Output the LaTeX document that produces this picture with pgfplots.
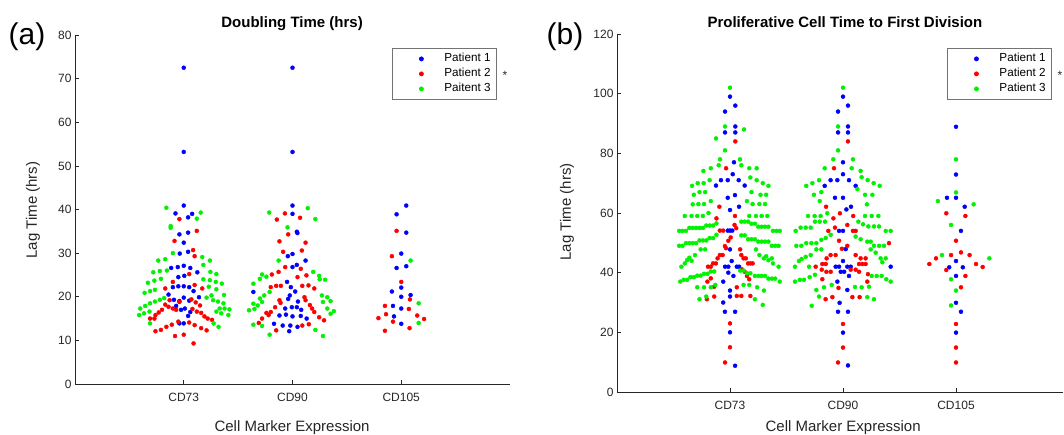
\documentclass[border=0pt]{standalone}
\usepackage{fontspec}
\setmainfont{Liberation Sans}
\usepackage{pgfplots}
\pgfplotsset{compat=1.18}
\definecolor{mblue}{rgb}{0,0,1}
\definecolor{mred}{rgb}{1,0,0}
\definecolor{mgreen}{rgb}{0,0.95,0}
\definecolor{axgray}{gray}{0.15}
\pgfplotsset{
  scale only axis, 
  axis x line*=bottom, axis y line*=left,
  axis line style={axgray, line width=0.6pt},
  every tick/.style={axgray, line width=0.6pt},
  tick align=inside, major tick length=4pt,
  xtick={1,2,3}, xticklabels={CD73,CD90,CD105},
  ticklabel style={font=\fontsize{12}{14}\selectfont, text=axgray},
  xticklabel style={yshift=-6pt},
  /pgf/number format/assume math mode=true,
  label style={font=\fontsize{15}{17}\selectfont, text=axgray},
  title style={font=\bfseries\fontsize{15}{17}\selectfont, anchor=center, yshift=-8pt},
  clip=false,
  legend style={draw=black!55, line width=0.8pt, fill=white, anchor=north west,
    font=\fontsize{11.7}{13}\selectfont, inner xsep=2pt, inner ysep=3pt,
    nodes={inner xsep=4pt, inner ysep=2pt, text height=8.5pt, text depth=2.5pt}},
  legend cell align=left,
  legend image code/.code={\path[draw=none] (0pt,0pt) -- (46pt,0pt); \draw[#1, only marks, draw opacity=1] plot coordinates {(27pt,0pt)};},
  dots/.style={only marks, mark=*, mark size=2.0pt},
}
\begin{document}
\begin{tikzpicture}
\useasboundingbox (0pt,0pt) rectangle (1064pt,434pt);
% ---------------- panel (a)
\begin{axis}[at={(75pt,50pt)}, anchor=south west, width=435pt, height=349pt,
  xmin=0, xmax=4, ymin=0, ymax=80, ytick={0,10,...,80},
  title={Doubling Time (hrs)}, title style={at={(axis description cs:0.499,1.037)}},
  xlabel={Cell Marker Expression}, xlabel style={at={(axis description cs:0.499,-0.126)}, anchor=center},
  ylabel={Lag Time (hrs)}, ylabel style={at={(axis description cs:-0.0966,0.4986)}, anchor=center},
  legend style={at={(axis description cs:0.7287,0.9628)}}]
\addplot[dots, mblue, mark options={fill=mblue}] table[row sep=\\] {
x y \\
1.000 72.5 \\ 1.000 53.2 \\ 1.000 40.9 \\ 0.924 39.1 \\ 1.077 39.0 \\ 1.040 38.2 \\
0.960 34.3 \\ 1.040 34.7 \\ 1.000 32.4 \\ 0.963 29.9 \\ 1.040 30.3 \\ 0.884 26.6 \\
0.945 26.8 \\ 1.000 27.1 \\ 1.060 26.6 \\ 1.125 25.6 \\ 0.950 24.5 \\ 1.005 24.8 \\
0.900 22.2 \\ 0.950 22.4 \\ 1.000 22.4 \\ 1.050 22.2 \\ 1.090 21.3 \\ 0.860 20.5 \\
0.910 19.3 \\ 0.960 19.0 \\ 1.000 19.8 \\ 1.050 19.1 \\ 1.140 19.9 \\ 0.930 17.9 \\
0.975 17.0 \\ 1.010 17.3 \\ 1.060 16.5 \\ 1.040 15.6 \\ 0.960 13.9 \\ 1.000 13.9 \\
2.000 72.5 \\ 2.000 53.2 \\ 2.000 40.9 \\ 2.000 39.0 \\ 2.040 34.9 \\ 2.045 34.6 \\
1.957 29.3 \\ 2.000 29.8 \\ 2.120 28.3 \\ 2.040 27.3 \\ 2.000 26.8 \\ 1.950 23.4 \\
1.985 22.2 \\ 1.640 21.1 \\ 1.975 20.3 \\ 2.025 21.2 \\ 1.960 19.5 \\ 2.050 18.9 \\
1.933 17.3 \\ 1.994 17.6 \\ 2.040 17.6 \\ 2.080 17.0 \\ 1.880 15.7 \\ 1.940 15.9 \\
2.000 15.5 \\ 2.076 15.6 \\ 2.130 15.0 \\ 1.830 13.8 \\ 1.910 13.4 \\ 1.980 13.4 \\
2.046 13.1 \\ 1.970 12.1 \\
3.046 40.9 \\ 2.957 38.9 \\ 3.046 34.7 \\ 3.000 29.9 \\ 2.957 26.6 \\ 3.046 27.0 \\
3.000 22.1 \\ 2.914 21.2 \\ 3.000 20.0 \\ 3.086 20.4 \\ 2.924 17.9 \\ 3.000 17.3 \\
2.933 15.5 \\ 3.000 13.8 \\
};
\addlegendentry{Patient 1}
\addplot[dots, mred, mark options={fill=mred}] table[row sep=\\] {
x y \\
0.960 37.8 \\ 1.120 35.1 \\ 0.915 32.8 \\ 1.086 30.7 \\ 1.100 29.3 \\ 1.050 25.2 \\
0.900 23.4 \\ 1.100 22.7 \\ 0.830 21.9 \\ 1.170 21.9 \\ 0.870 19.2 \\ 1.070 19.4 \\
0.830 18.2 \\ 0.860 17.7 \\ 0.900 17.3 \\ 0.930 17.0 \\ 0.960 18.8 \\ 1.110 18.7 \\
1.150 18.0 \\ 1.080 17.2 \\ 1.120 16.6 \\ 1.160 16.3 \\ 1.190 15.5 \\ 1.220 15.0 \\
1.260 14.7 \\ 0.800 17.0 \\ 0.770 16.4 \\ 0.740 15.8 \\ 0.730 15.0 \\ 0.690 15.0 \\
0.740 12.1 \\ 0.790 12.4 \\ 0.840 13.1 \\ 0.890 13.6 \\ 0.950 14.3 \\ 1.050 14.1 \\
1.100 13.5 \\ 1.160 12.8 \\ 1.210 12.3 \\ 0.920 11.0 \\ 1.000 11.3 \\ 1.090 9.3 \\
1.930 39.1 \\ 1.856 37.7 \\ 2.070 38.1 \\ 1.960 34.3 \\ 1.880 32.7 \\ 2.120 32.4 \\
1.914 30.3 \\ 2.086 30.6 \\ 1.933 26.8 \\ 2.076 26.4 \\ 1.872 25.7 \\ 1.810 25.1 \\
2.046 24.5 \\ 2.128 24.9 \\ 1.800 22.2 \\ 1.850 22.5 \\ 1.893 22.5 \\ 2.090 22.5 \\
2.147 22.6 \\ 2.200 21.9 \\ 1.880 19.2 \\ 1.890 18.6 \\ 2.110 19.9 \\ 2.120 19.2 \\
1.840 17.6 \\ 1.800 16.5 \\ 1.760 16.3 \\ 1.780 15.8 \\ 2.180 17.3 \\ 2.200 16.5 \\
2.160 18.1 \\ 1.720 15.0 \\ 1.690 14.0 \\ 2.245 15.3 \\ 2.290 14.6 \\ 2.090 13.4 \\
2.150 13.7 \\ 1.850 12.3 \\
2.957 35.1 \\ 2.914 29.3 \\ 3.000 23.4 \\ 3.080 19.4 \\ 2.850 17.9 \\ 3.070 17.2 \\
2.860 16.0 \\ 2.790 15.1 \\ 3.147 15.7 \\ 3.210 14.9 \\ 2.924 14.3 \\ 3.076 12.8 \\
2.850 12.2 \\
};
\addlegendentry{Patient 2}
\addplot[dots, mgreen, mark options={fill=mgreen}] table[row sep=\\] {
x y \\
0.840 40.4 \\ 1.156 39.3 \\ 1.120 37.9 \\ 0.880 36.2 \\ 0.880 35.8 \\ 0.900 30.0 \\
1.170 29.1 \\ 0.765 28.3 \\ 0.830 28.6 \\ 1.240 28.3 \\ 1.180 27.3 \\ 0.720 25.6 \\
0.780 25.9 \\ 0.845 26.0 \\ 1.245 25.7 \\ 1.300 25.2 \\ 0.670 23.2 \\ 0.730 23.7 \\
0.790 24.1 \\ 1.180 24.0 \\ 1.240 23.8 \\ 1.295 23.4 \\ 1.350 23.0 \\ 0.640 20.9 \\
0.690 21.3 \\ 0.735 21.6 \\ 1.230 22.3 \\ 1.300 21.7 \\ 1.255 20.3 \\ 1.370 20.4 \\
0.600 17.3 \\ 0.645 17.9 \\ 0.690 18.5 \\ 0.735 18.9 \\ 0.780 19.3 \\ 0.820 19.7 \\
1.210 19.8 \\ 1.270 19.2 \\ 1.315 18.9 \\ 1.365 18.5 \\ 0.590 15.8 \\ 0.635 16.2 \\
0.685 16.6 \\ 1.300 16.6 \\ 1.345 16.2 \\ 1.410 15.8 \\ 1.330 17.3 \\ 1.375 17.3 \\
1.420 17.1 \\ 0.690 13.9 \\ 1.320 13.1 \\ 1.275 13.9 \\
1.786 39.3 \\ 2.140 40.3 \\ 2.210 37.8 \\ 1.954 35.9 \\ 1.872 28.3 \\ 1.700 24.1 \\
1.640 23.0 \\ 1.720 25.1 \\ 1.760 24.6 \\ 2.190 25.7 \\ 2.245 24.8 \\ 2.250 24.0 \\
2.300 23.9 \\ 1.790 21.1 \\ 1.740 20.3 \\ 1.700 19.6 \\ 2.270 20.3 \\ 2.320 19.9 \\
2.280 18.8 \\ 2.350 19.0 \\ 1.640 18.4 \\ 1.680 18.0 \\ 1.720 18.8 \\ 1.600 16.9 \\
1.650 17.2 \\ 2.320 17.3 \\ 2.350 16.1 \\ 2.380 16.7 \\ 1.640 13.6 \\ 1.720 13.3 \\
1.790 11.3 \\ 2.280 11.0 \\ 2.210 12.4 \\
3.086 28.3 \\ 3.160 18.5 \\ 3.160 14.0 \\
};
\addlegendentry{Paitent 3}
\end{axis}
% ---------------- panel (b)
\begin{axis}[at={(617pt,42pt)}, anchor=south west, width=446pt, height=358pt,
  xmin=0, xmax=3.947, ymin=0, ymax=120, ytick={0,20,...,120},
  title={Proliferative Cell Time to First Division}, title style={at={(axis description cs:0.511,1.039)}},
  xlabel={Cell Marker Expression}, xlabel style={at={(axis description cs:0.507,-0.1006)}, anchor=center},
  ylabel={Lag Time (hrs)}, ylabel style={at={(axis description cs:-0.1121,0.503)}, anchor=center},
  legend style={at={(axis description cs:0.740,0.961)}}]
\addplot[dots, mblue, mark options={fill=mblue}] table[row sep=\\] {
x y \\
1.000 99 \\ 1.047 96 \\ 0.956 94 \\ 1.047 89 \\ 0.956 87 \\ 1.047 87 \\ 1.035 77 \\
1.024 73 \\ 0.920 71 \\ 0.980 71 \\ 1.077 71 \\ 0.876 69.2 \\ 1.130 69.2 \\ 0.980 65.1 \\
1.044 66.0 \\ 1.000 61.0 \\ 1.080 62.1 \\ 0.980 54.1 \\ 1.000 54.1 \\ 1.020 54.1 \\
1.000 47.8 \\ 0.956 42.0 \\ 0.985 42.0 \\ 1.060 42.0 \\ 1.080 42.0 \\ 1.015 43.9 \\
0.985 40.0 \\ 1.030 38.9 \\ 0.940 37.0 \\ 1.000 34.0 \\ 1.000 32.0 \\ 0.940 30.0 \\
0.955 26.9 \\ 1.045 26.9 \\ 1.000 20.0 \\ 1.045 8.8 \\
2.000 99 \\ 2.044 96 \\ 1.956 94 \\ 2.044 89 \\ 1.956 87 \\ 2.044 87 \\ 2.000 77 \\
2.000 73 \\ 1.890 71 \\ 1.950 71 \\ 2.053 71 \\ 1.838 69.1 \\ 2.112 69.1 \\ 1.929 65.1 \\
2.000 65.1 \\ 2.030 61.2 \\ 2.071 62.1 \\ 1.965 54.0 \\ 2.000 54.0 \\ 2.024 47.9 \\
2.000 43.9 \\ 1.935 42.0 \\ 1.965 42.0 \\ 2.038 42.0 \\ 2.068 42.0 \\ 2.422 42.0 \\
1.980 40.3 \\ 2.010 40.3 \\ 2.053 38.9 \\ 1.950 37.0 \\ 2.038 34.2 \\ 1.970 29.9 \\
1.956 26.9 \\ 2.044 26.9 \\ 2.000 19.9 \\ 2.044 8.9 \\
3.000 88.9 \\ 3.000 72.9 \\ 2.920 65.1 \\ 3.000 65.1 \\ 3.077 62.1 \\ 3.044 54.0 \\
3.000 43.9 \\ 2.940 41.8 \\ 3.060 41.8 \\ 3.000 38.9 \\ 3.000 29.9 \\ 3.044 26.9 \\
3.000 19.9 \\
};
\addlegendentry{Patient 1}
\addplot[dots, mred, mark options={fill=mred}] table[row sep=\\] {
x y \\
1.047 84 \\ 0.965 75 \\ 0.906 62.1 \\ 0.880 58.2 \\ 1.044 59.0 \\ 1.040 56.0 \\
1.055 54.9 \\ 0.910 54.1 \\ 0.940 54.1 \\ 1.006 51.8 \\ 0.985 50.7 \\ 0.955 48.9 \\
0.965 48.2 \\ 1.090 47.8 \\ 0.910 45.9 \\ 0.935 45.9 \\ 0.890 44.8 \\ 0.875 43.1 \\
0.850 43.1 \\ 0.830 42.0 \\ 0.805 42.0 \\ 1.100 45.9 \\ 1.120 44.8 \\ 1.140 44.8 \\
1.160 43.1 \\ 1.180 43.1 \\ 1.200 43.1 \\ 1.105 41.1 \\ 1.130 40.3 \\ 1.150 38.9 \\
1.170 37.8 \\ 0.830 38.1 \\ 0.800 37.0 \\ 0.860 35.3 \\ 0.795 31.1 \\ 0.860 32.0 \\
1.060 35.1 \\ 1.060 32.2 \\ 1.100 32.2 \\ 1.180 32.2 \\ 1.000 23.0 \\ 1.000 15.0 \\
0.956 9.9 \\
2.044 84 \\ 1.920 75 \\ 1.850 62.1 \\ 1.973 59.9 \\ 2.090 59.0 \\ 1.915 58.2 \\
2.038 56.0 \\ 1.929 55.1 \\ 1.870 54.0 \\ 2.088 54.0 \\ 2.112 54.0 \\ 1.965 50.7 \\
2.038 49.0 \\ 1.990 48.0 \\ 1.890 45.9 \\ 1.935 45.9 \\ 2.112 45.9 \\ 1.855 44.8 \\
2.156 44.8 \\ 2.200 44.8 \\ 1.817 42.9 \\ 1.847 42.9 \\ 2.142 42.9 \\ 2.171 42.9 \\
2.200 42.9 \\ 1.758 42.0 \\ 1.812 41.0 \\ 1.853 40.3 \\ 1.891 40.3 \\ 2.068 41.0 \\
2.112 41.0 \\ 2.142 40.3 \\ 2.221 39.5 \\ 1.817 37.8 \\ 2.215 37.0 \\ 1.960 34.9 \\
1.846 31.1 \\ 1.906 31.8 \\ 2.083 31.8 \\ 2.147 31.8 \\ 2.000 22.8 \\ 2.000 14.9 \\
1.956 9.9 \\ 2.407 49.9 \\
2.914 59.9 \\ 3.083 59.0 \\ 3.000 50.7 \\ 2.823 44.8 \\ 2.764 42.9 \\ 2.956 45.9 \\
3.044 46.8 \\ 3.120 45.9 \\ 3.177 42.9 \\ 3.236 41.9 \\ 2.914 40.9 \\ 3.083 38.9 \\
3.044 35.1 \\ 3.000 22.8 \\ 3.000 14.9 \\ 3.000 9.9 \\
};
\addlegendentry{Patient 2}
\addplot[dots, mgreen, mark options={fill=mgreen}] table[row sep=\\] {
x y \\
1.000 102 \\ 0.956 89 \\ 1.124 88 \\ 0.876 85 \\ 0.956 81 \\ 0.912 78 \\ 1.088 78 \\
0.900 76 \\ 1.100 76 \\ 0.764 74.1 \\ 0.830 75 \\ 1.170 75 \\ 1.236 75 \\ 0.820 71 \\
1.180 71.9 \\ 1.236 71 \\ 0.664 69.1 \\ 0.714 70 \\ 0.767 70 \\ 1.290 70 \\ 1.340 69.1 \\
0.680 66.1 \\ 0.730 67 \\ 0.780 67 \\ 1.190 67 \\ 1.270 66.1 \\ 1.320 66.1 \\
0.670 62.9 \\ 0.720 63 \\ 0.770 63 \\ 0.830 64 \\ 1.150 64 \\ 1.200 63 \\ 1.260 63 \\
1.310 63 \\ 0.600 59 \\ 0.660 59 \\ 0.710 59 \\ 0.760 59 \\ 0.810 60 \\ 1.170 59 \\
1.230 59 \\ 1.280 59 \\ 1.330 59 \\
0.550 54.0 \\ 0.580 54.0 \\ 0.610 54.0 \\ 0.640 55.0 \\ 0.670 55.0 \\ 0.700 55.0 \\
0.730 55.0 \\ 0.760 55.0 \\ 0.790 55.8 \\ 0.820 55.8 \\ 0.850 55.8 \\ 0.880 56.5 \\
1.100 57.1 \\ 1.130 57.1 \\ 1.160 57.1 \\ 1.190 56.4 \\ 1.220 56.4 \\ 1.250 55.4 \\
1.280 55.4 \\ 1.310 55.4 \\ 1.340 55.4 \\ 1.380 54.0 \\ 1.410 54.0 \\ 1.440 54.0 \\
0.550 49.0 \\ 0.580 49.0 \\ 0.610 49.9 \\ 0.640 49.9 \\ 0.670 49.9 \\ 0.700 49.9 \\
0.730 50.8 \\ 0.760 50.8 \\ 0.790 50.8 \\ 0.820 51.6 \\ 0.850 51.6 \\ 0.880 52.7 \\
1.100 52.5 \\ 1.130 52.5 \\ 1.160 51.2 \\ 1.190 51.2 \\ 1.220 51.2 \\ 1.250 50.4 \\
1.280 50.4 \\ 1.310 50.4 \\ 1.340 50.4 \\ 1.370 49.0 \\ 1.400 49.0 \\ 1.430 49.0 \\
0.570 42.0 \\ 0.600 43.1 \\ 0.620 44.2 \\ 0.640 45.0 \\ 0.660 44.0 \\ 0.690 45.9 \\
0.740 47.8 \\ 0.780 47.8 \\ 1.230 47.8 \\ 1.260 45.9 \\ 1.300 44.8 \\ 1.340 44.2 \\
1.370 44.8 \\ 1.380 43.1 \\ 1.430 42.0 \\ 1.320 45.5 \\
0.560 37.0 \\ 0.590 37.6 \\ 0.620 37.6 \\ 0.650 38.5 \\ 0.680 38.5 \\ 0.710 39.0 \\
0.740 39.0 \\ 0.770 39.6 \\ 0.800 39.6 \\ 0.830 40.4 \\ 0.860 40.4 \\
1.090 40.7 \\ 1.120 40.7 \\ 1.150 39.8 \\ 1.180 39.8 \\ 1.220 38.9 \\ 1.250 38.9 \\
1.280 38.9 \\ 1.310 38.9 \\ 1.340 38.0 \\ 1.370 38.0 \\ 1.400 38.0 \\ 1.440 37.0 \\
0.710 35.1 \\ 0.770 35.1 \\ 0.830 35.1 \\ 0.870 35.9 \\ 0.730 31.1 \\ 0.790 32.0 \\
1.120 35.9 \\ 1.170 35.9 \\ 1.240 35.1 \\ 1.300 34.0 \\ 1.220 31.1 \\ 1.290 29.2 \\
2.000 102 \\ 1.956 89 \\ 1.956 81 \\ 1.914 78 \\ 2.088 78 \\ 1.838 75 \\ 2.077 75 \\
2.156 74.1 \\ 2.165 72 \\ 2.218 71 \\ 1.788 71 \\ 1.729 70 \\ 1.675 69.1 \\ 2.271 70 \\
2.325 69.1 \\ 2.127 68 \\ 1.743 66.1 \\ 1.808 67 \\ 2.195 66.1 \\ 2.260 66.1 \\
1.794 64 \\ 2.212 62.9 \\
1.690 59.0 \\ 1.749 59.0 \\ 1.802 59.0 \\ 1.861 59.9 \\ 2.195 59.0 \\ 2.254 59.0 \\
2.313 59.0 \\ 1.752 57.1 \\ 1.794 57.1 \\ 1.841 57.1 \\ 2.136 57.1 \\ 2.177 56.2 \\
2.224 55.5 \\ 2.274 55.5 \\ 2.318 55.5 \\ 1.581 54.0 \\ 1.625 55.1 \\ 1.670 55.1 \\
1.714 55.1 \\ 2.378 54.0 \\ 2.422 54.0 \\ 1.891 52.7 \\ 1.847 51.6 \\ 2.112 52.1 \\
2.156 51.2 \\ 2.215 50.4 \\ 2.245 50.4 \\ 1.587 49.0 \\ 1.631 49.0 \\ 1.675 49.9 \\
1.720 49.9 \\ 1.764 49.9 \\ 1.808 51.0 \\ 2.274 49.0 \\ 2.319 49.0 \\ 2.363 49.0 \\
1.764 47.8 \\ 1.808 47.8 \\ 2.245 47.8 \\ 2.289 46.7 \\ 1.714 45.9 \\ 1.634 44.6 \\
1.670 45.3 \\ 1.610 43.9 \\ 2.333 44.8 \\ 2.378 44.8 \\ 2.348 43.5 \\ 1.575 42.0 \\
1.700 42.0 \\ 1.575 37.0 \\ 1.618 37.6 \\ 1.655 37.6 \\ 1.705 38.5 \\ 1.752 39.3 \\
2.254 38.9 \\ 2.298 38.9 \\ 2.342 38.9 \\ 2.383 37.8 \\ 2.422 37.0 \\ 1.764 34.2 \\
1.832 35.1 \\ 1.900 35.9 \\ 2.106 35.2 \\ 2.165 35.1 \\ 2.230 35.3 \\ 1.788 32.0 \\
2.215 31.8 \\ 2.274 31.1 \\ 1.723 28.9 \\
3.000 78.0 \\ 3.000 66.9 \\ 2.840 64.0 \\ 3.156 62.9 \\ 2.956 56.0 \\ 2.876 45.9 \\
3.295 44.8 \\ 2.956 37.8 \\ 3.000 34.0 \\ 2.956 29.0 \\
};
\addlegendentry{Patient 3}
\end{axis}
\node[font=\fontsize{30}{32}\selectfont, text=black] at (27pt,397pt) {(a)};
\node[font=\fontsize{30}{32}\selectfont, text=black] at (565pt,397pt) {(b)};
\node[font=\fontsize{12}{14}\selectfont, text=axgray] at (505pt,359pt) {*};
\node[font=\fontsize{12}{14}\selectfont, text=axgray] at (1060pt,359pt) {*};
\end{tikzpicture}
\end{document}
